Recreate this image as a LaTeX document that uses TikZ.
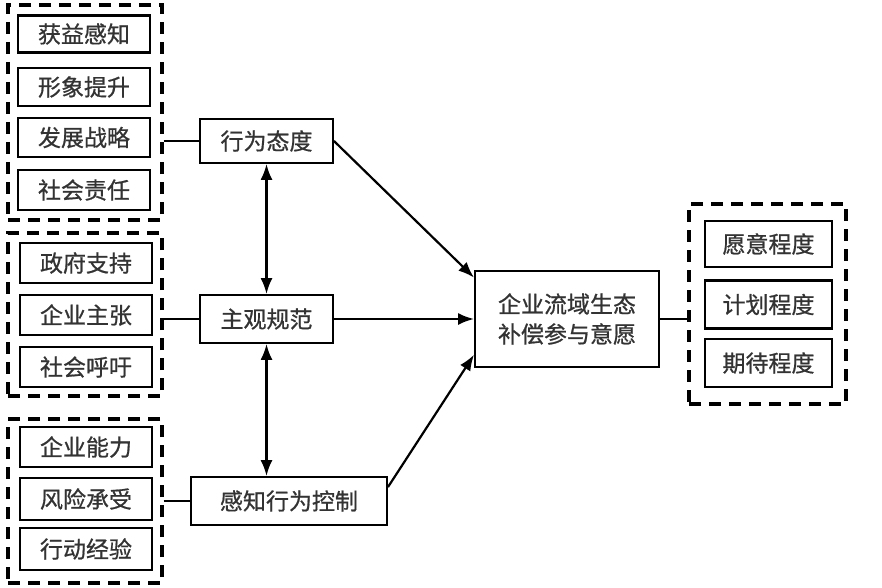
\documentclass[tikz,border=0pt]{standalone}
\usepackage{fontspec}
\newfontfamily\cjk[UprightFeatures={FakeBold=0.8}]{Noto Sans CJK SC}
\usetikzlibrary{arrows.meta}

\tikzset{
  txt/.style={font=\cjk\fontsize{23}{30}\selectfont, text=black!80},
  item/.style={txt, draw, line width=2.8pt, minimum width=132pt,
    minimum height=40pt, inner sep=0pt},
  factor/.style={txt, draw, line width=1.9pt, minimum height=46pt,
    inner sep=0pt},
  group/.style={draw, line width=3.2pt, dash pattern=on 12pt off 8pt,
    inner sep=0pt},
  link/.style={line width=2.2pt},
  arr/.style={link, -{Latex[length=16pt,width=12pt]}},
  biarr/.style={link, {Latex[length=16pt,width=12pt]}-{Latex[length=16pt,width=12pt]}},
}

\begin{document}
\begin{tikzpicture}[x=1pt,y=-1pt]
  \useasboundingbox (0,0) rectangle (882,588);

  % dashed groups
  \node [group, minimum width=154pt, minimum height=215pt] (g1) at (85,112.5) {};
  \node [group, minimum width=154pt, minimum height=163pt] (g2) at (85,314.5) {};
  \node [group, minimum width=154pt, minimum height=164pt] (g3) at (85,501) {};
  \node [group, minimum width=157pt, minimum height=200pt] (g4) at (767.5,304) {};

  % items
  \node [item, minimum height=37pt] (a1) at (84,34) {获益感知};
  \node [item, minimum height=38pt] (a2) at (84,87) {形象提升};
  \node [item, minimum height=39pt] (a3) at (84,137.5) {发展战略};
  \node [item, minimum height=40pt] (a4) at (84,190) {社会责任};

  \node [item] (b1) at (86,263) {政府支持};
  \node [item] (b2) at (86,315) {企业主张};
  \node [item] (b3) at (86,367) {社会呼吁};

  \node [item] (c1) at (86,447) {企业能力};
  \node [item, minimum height=42pt] (c2) at (86,499) {风险承受};
  \node [item, minimum height=42pt] (c3) at (86,549) {行动经验};

  \node [item, minimum width=127pt, minimum height=46pt] (d1) at (768.5,244) {愿意程度};
  \node [item, minimum width=127pt, minimum height=48pt] (d2) at (768.5,304.5) {计划程度};
  \node [item, minimum width=127pt, minimum height=48pt] (d3) at (768.5,363) {期待程度};

  % factors
  \node [factor, minimum width=133pt, minimum height=44pt] (att) at (266.5,141) {行为态度};
  \node [factor, minimum width=133pt, minimum height=48pt] (norm) at (266.5,319) {主观规范};
  \node [factor, minimum width=196pt, minimum height=48pt] (ctrl) at (289,501) {感知行为控制};
  \node [factor, minimum width=184pt, minimum height=96pt, align=center] (will) at (567,319)
    {企业流域生态\\补偿参与意愿};

  % connectors
  \draw [link] (g1.east |- att) -- (att.west);
  \draw [link] (g2.east |- norm) -- (norm.west);
  \draw [link] (g3.east |- ctrl) -- (ctrl.west);
  \draw [link] (will.east) -- (will.east -| g4.west);

  \draw [biarr] (att.south) -- (norm.north);
  \draw [biarr] (norm.south) -- (norm.south |- ctrl.north);

  \draw [arr] (att.east) -- (will.156);
  \draw [arr] (norm.east) -- (will.west);
  \draw [arr] (ctrl.8) -- (will.201);
\end{tikzpicture}
\end{document}
